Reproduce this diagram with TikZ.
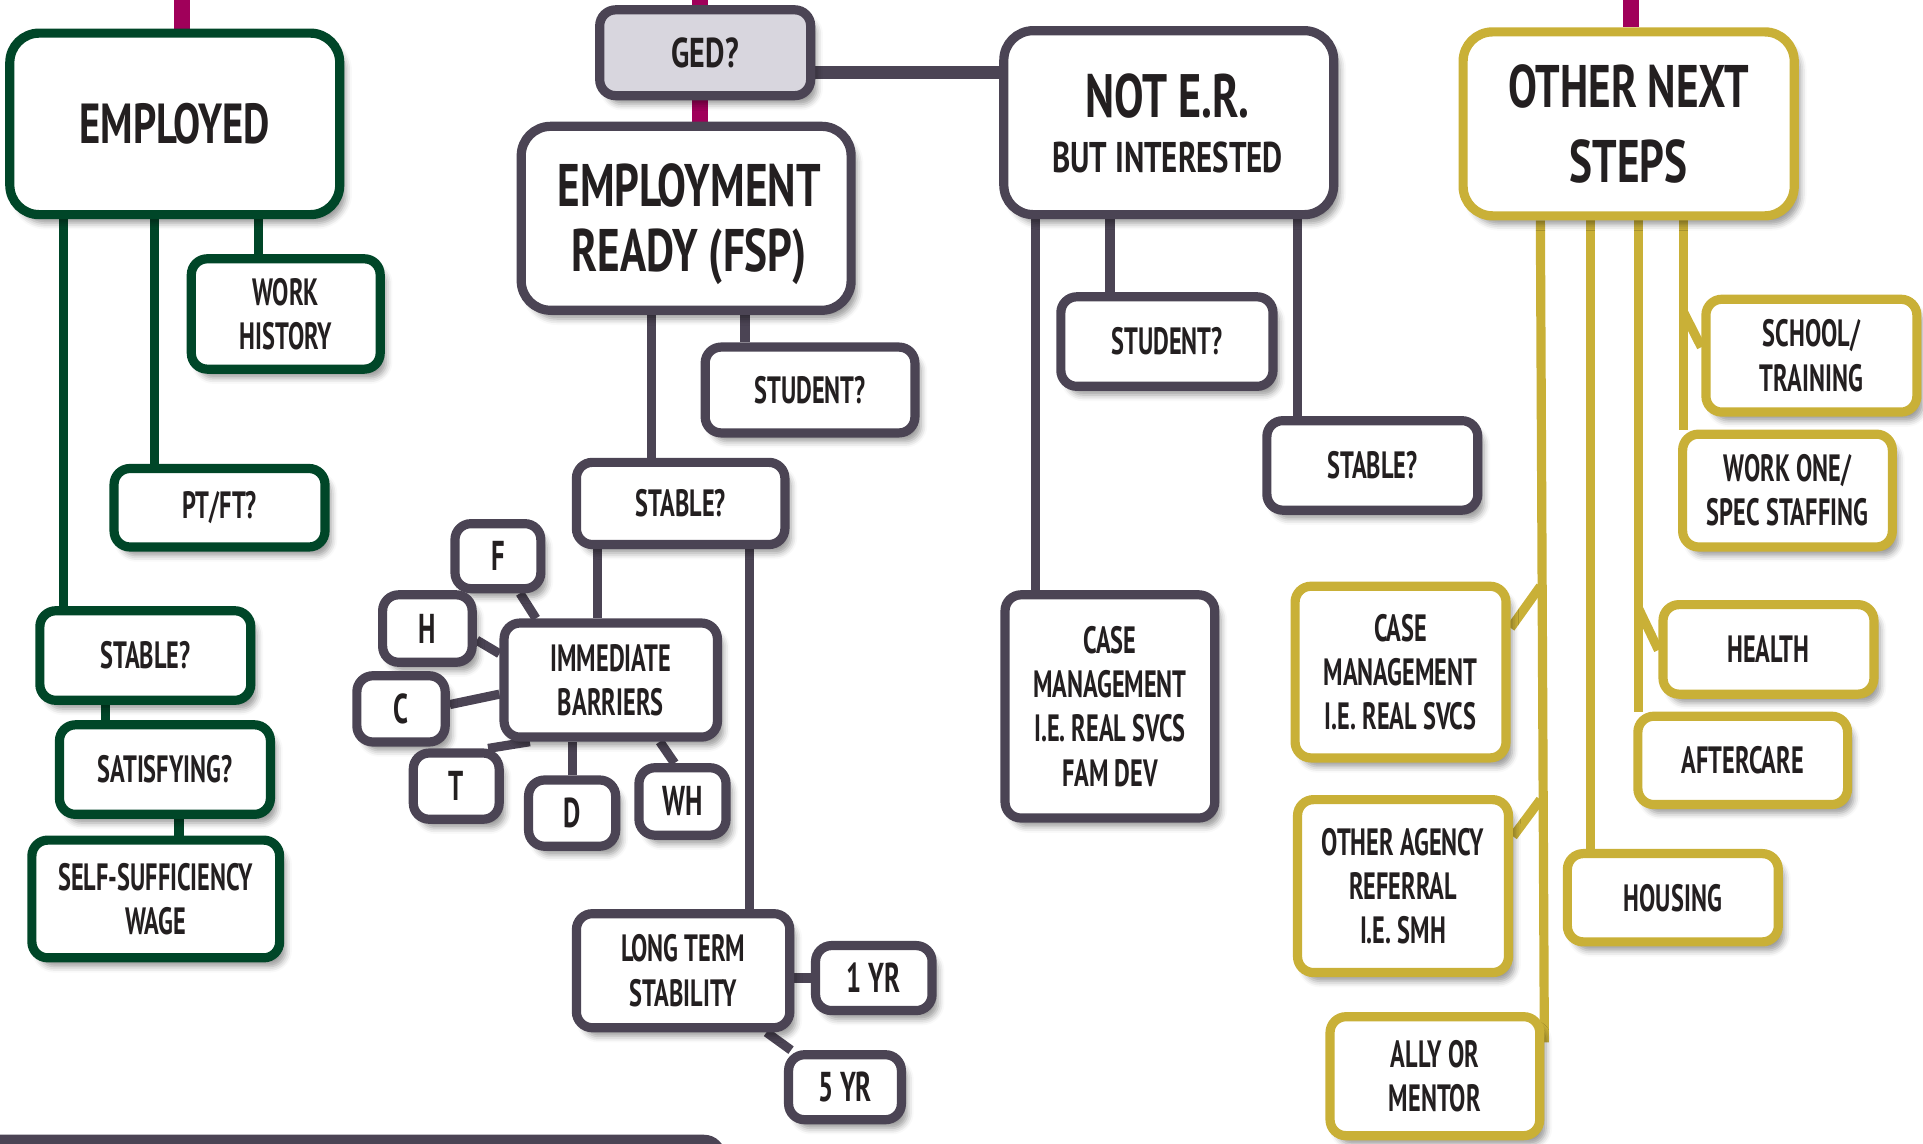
\documentclass[tikz,border=0pt]{standalone}
\usepackage{fontspec}
\setmainfont{PT Sans}[FakeStretch=0.64]
\newfontfamily\bigf{PT Sans}[FakeStretch=0.72]
\usetikzlibrary{shadows.blur,calc}
\pgfdeclarelayer{bg}
\pgfsetlayers{bg,main}
\definecolor{grn}{RGB}{0,70,40}
\definecolor{pur}{RGB}{75,68,84}
\definecolor{gld}{RGB}{201,176,55}
\definecolor{mag}{RGB}{160,0,90}
\definecolor{gedfill}{RGB}{216,214,222}
\definecolor{ink}{RGB}{35,31,32}
\tikzset{
  box/.style={draw, line width=7.5pt, rounded corners=13pt, fill=white, align=center,
    text=ink, inner sep=0pt,
    blur shadow={shadow xshift=5pt, shadow yshift=-7pt, shadow blur radius=5pt, shadow opacity=40}},
  bigbox/.style={rounded corners=24pt},
  gbox/.style={box, draw=grn},
  pbox/.style={box, draw=pur},
  ybox/.style={box, draw=gld},
  txs/.style={font=\fontsize{31}{36}\selectfont\bfseries},
  txl/.style={font=\fontsize{34}{36}\selectfont\bfseries},
  lbl/.style={align=center, text=ink, inner sep=0pt},
  gline/.style={grn, line width=7.5pt},
  pline/.style={pur, line width=7.5pt},
  yline/.style={gld, line width=7.5pt},
  mline/.style={mag, line width=13pt},
}
\begin{document}
\begin{tikzpicture}[x=1pt,y=-1pt]
\useasboundingbox (0,0) rectangle (1568,932);
\clip (0,0) rectangle (1568,932);

% ---------- green column ----------
\node[gbox, bigbox, minimum width=269pt, minimum height=148pt,
      font=\bigf\bfseries\fontsize{46}{52}\selectfont] (emp) at (142.5,101) {EMPLOYED};
\node[gbox, txs, minimum width=154pt, minimum height=90pt] (work) at (233,256) {WORK\\HISTORY};
\node[gbox, txs, minimum width=172pt, minimum height=64pt] (ptft) at (179,414) {PT/FT?};
\node[gbox, txs, minimum width=172pt, minimum height=73pt] (gstab) at (118.5,534.5) {STABLE?};
\node[gbox, txs, minimum width=172pt, minimum height=73pt] (sat) at (134.5,627.5) {SATISFYING?};
\node[gbox, txs, minimum width=202pt, minimum height=96pt] (self) at (127,733) {SELF-SUFFICIENCY\\WAGE};

% ---------- employment ready column ----------
\node[pbox, fill=gedfill, minimum width=172pt, minimum height=70pt,
      font=\bigf\bfseries\fontsize{34}{40}\selectfont] (ged) at (575,43) {GED?};
\node[pbox, bigbox, minimum width=269pt, minimum height=150pt] (er) at (559.5,178) {};
\node[lbl, font=\bigf\bfseries\fontsize{49}{53}\selectfont] (ertext) at (562,183) {EMPLOYMENT\\READY (FSP)};
\node[pbox, txs, minimum width=171pt, minimum height=70pt] (stu1) at (660.5,318) {STUDENT?};
\node[pbox, txs, minimum width=170pt, minimum height=67pt] (stab1) at (555,410.5) {STABLE?};
\node[pbox, txs, minimum width=174pt, minimum height=93pt] (imm) at (498,554.5) {IMMEDIATE\\BARRIERS};
\node[pbox, txl, minimum width=70pt, minimum height=53pt] (bF) at (406,453.5) {F};
\node[pbox, txl, minimum width=73pt, minimum height=55pt] (bH) at (348.5,512.5) {H};
\node[pbox, txl, minimum width=72pt, minimum height=54pt] (bC) at (327,578) {C};
\node[pbox, txl, minimum width=70pt, minimum height=54pt] (bT) at (372,641) {T};
\node[pbox, txl, minimum width=71pt, minimum height=54pt] (bD) at (466.5,663) {D};
\node[pbox, txl, minimum width=71pt, minimum height=55pt] (bWH) at (556.5,653.5) {WH};
\node[pbox, txs, minimum width=174pt, minimum height=93pt] (long) at (557,791.5) {LONG TERM\\STABILITY};
\node[pbox, txl, minimum width=95pt, minimum height=53pt] (yr1) at (712.5,797.5) {1 YR};
\node[pbox, txl, minimum width=92pt, minimum height=53pt] (yr5) at (689,886.5) {5 YR};

% ---------- not E.R. column ----------
\node[pbox, bigbox, minimum width=269pt, minimum height=150pt] (ner) at (953,100) {};
\node[lbl, font=\bigf\bfseries\fontsize{50}{56}\selectfont] (nertop) at (952,78) {NOT E.R.};
\node[lbl, font=\bigf\bfseries\fontsize{35}{40}\selectfont] (nerbot) at (952,128) {BUT INTERESTED};
\node[pbox, txs, minimum width=173pt, minimum height=73pt] (stu2) at (951.5,278.5) {STUDENT?};
\node[pbox, txs, minimum width=172pt, minimum height=73pt] (stab2) at (1119,379.5) {STABLE?};
\node[pbox, txs, minimum width=171pt, minimum height=182pt] (cm1) at (905,576)
  {CASE\\MANAGEMENT\\I.E. REAL SVCS\\FAM DEV};

% ---------- other next steps column ----------
\node[ybox, bigbox, minimum width=270pt, minimum height=150pt,
      font=\bigf\bfseries\fontsize{49}{61}\selectfont] (ons) at (1328,101) {OTHER NEXT\\STEPS};
\node[ybox, txs, minimum width=172pt, minimum height=92pt] (school) at (1477,290) {SCHOOL/\\TRAINING};
\node[ybox, txs, minimum width=171pt, minimum height=92pt] (workone) at (1457.5,400) {WORK ONE/\\SPEC STAFFING};
\node[ybox, txs, minimum width=172pt, minimum height=140pt] (cm2) at (1142,548) {CASE\\MANAGEMENT\\I.E. REAL SVCS};
\node[ybox, txs, minimum width=172pt, minimum height=73pt] (health) at (1442,529.5) {HEALTH};
\node[ybox, txs, minimum width=171pt, minimum height=72pt] (after) at (1421,620) {AFTERCARE};
\node[ybox, txs, minimum width=172pt, minimum height=141pt] (oar) at (1144,722.5) {OTHER AGENCY\\REFERRAL\\I.E. SMH};
\node[ybox, txs, minimum width=172pt, minimum height=72pt] (housing) at (1364,732) {HOUSING};
\node[ybox, txs, minimum width=171pt, minimum height=97pt] (ally) at (1170,877.5) {ALLY OR\\MENTOR};

% partial box at the bottom edge
\node[pbox, minimum width=640pt, minimum height=100pt, rounded corners=14pt] (bottom) at (268,979) {};

% free ends
\coordinate (m1) at (148.5,-20);
\coordinate (m2) at (571,-20);
\coordinate (m3) at (1330,-20);
\coordinate (jSchool) at (1373,255);
\coordinate (jHealth) at (1336,496);
\coordinate (jCm) at (1256,478);
\coordinate (jOar) at (1256,652);

\begin{pgfonlayer}{bg}
  % magenta stubs
  \draw[mline] (m1) -- (emp.north -| m1);
  \draw[mline] (m2) -- (ged.north -| m2);
  \draw[mline] (ged.south -| m2) -- (er.north -| m2);
  \draw[mline] (m3) -- (ons.north -| m3);
  % green
  \draw[gline] (emp.south -| 52,0) -- (gstab.north -| 52,0);
  \draw[gline] (emp.south -| 126,0) -- (ptft.north -| 126,0);
  \draw[gline] (emp.south -| 211,0) -- (work.north -| 211,0);
  \draw[gline] (gstab.south -| 86,0) -- (sat.north -| 86,0);
  \draw[gline] (sat.south -| 146,0) -- (self.north -| 146,0);
  % gray
  \draw[pur, line width=10.5pt] (ged.east |- 0,59) -- (ner.west |- 0,59);
  \draw[pline] (er.south -| 531,0) -- (stab1.north -| 531,0);
  \draw[pline] (er.south -| 607.5,0) -- (stu1.north -| 607.5,0);
  \draw[pline] (stab1.south -| 487.5,0) -- (imm.north -| 487.5,0);
  \draw[pline] (stab1.south -| 611,0) -- (long.north -| 611,0);
  \draw[pline] (bF.south -| 424,0) -- (imm.north -| 437,0);
  \draw[pline] (bH.east |- 0,522) -- (imm.west |- 0,533);
  \draw[pline] (bC.east |- 0,574.5) -- (imm.west |- 0,566);
  \draw[pline] (bT.north -| 398,0) -- (imm.south -| 432,0);
  \draw[pline] (bD.north) -- (imm.south -| bD.north);
  \draw[pline] (bWH.north -| 550,0) -- (imm.south -| 538,0);
  \draw[pline] (long.east |- 0,797.5) -- (yr1.west |- 0,797.5);
  \draw[pline] (long.south -| 625,0) -- (yr5.north -| 645,0);
  \draw[pline] (ner.south -| 844.5,0) -- (cm1.north -| 844.5,0);
  \draw[pline] (ner.south -| 905,0) -- (stu2.north -| 905,0);
  \draw[pline] (ner.south -| 1058,0) -- (stab2.north -| 1058,0);
  % gold
  \draw[yline] (ons.south -| 1256,0) -- (ally.east |- 0,850);
  \draw[yline] (ons.south -| 1297,0) -- (housing.north -| 1297,0);
  \draw[yline] (ons.south -| 1336,0) -- (after.north -| 1336,0);
  \draw[yline] (ons.south -| 1373,0) -- (workone.north -| 1373,0);
  \draw[yline] (jSchool) -- (school.west |- 0,283);
  \draw[yline] (jHealth) -- (health.west |- 0,530);
  \draw[yline] (jCm) -- (cm2.east |- 0,512);
  \draw[yline] (jOar) -- (oar.east |- 0,682);
\end{pgfonlayer}
\end{tikzpicture}
\end{document}
